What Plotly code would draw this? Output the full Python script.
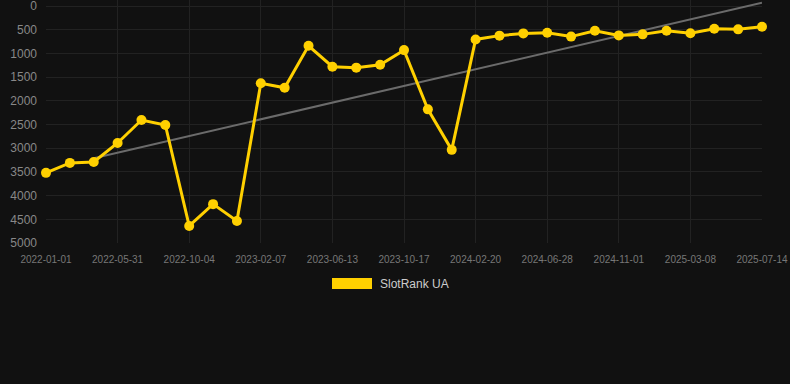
import plotly.graph_objects as go

dates = [
    "2022-01-01", "2022-02-20", "2022-04-10", "2022-05-31", "2022-07-12", "2022-08-23",
    "2022-10-04", "2022-11-15", "2022-12-27", "2023-02-07", "2023-03-21", "2023-05-02",
    "2023-06-13", "2023-07-25", "2023-09-05", "2023-10-17", "2023-11-28", "2024-01-09",
    "2024-02-20", "2024-04-02", "2024-05-15", "2024-06-28", "2024-08-09", "2024-09-20",
    "2024-11-01", "2024-12-13", "2025-01-24", "2025-03-08", "2025-04-20", "2025-06-01",
    "2025-07-14",
]
rank = [
    3520, 3310, 3290, 2890, 2405, 2510,
    4640, 4180, 4535, 1630, 1725, 840,
    1280, 1300, 1240, 930, 2180, 3035,
    705, 625, 578, 565, 645, 522,
    620, 598, 522, 576, 480, 492,
    436,
]
trend_x = [dates[2], dates[-1]]
trend_y = [3210, -70]
tick_labels = dates[::3]
series_name = "SlotRank UA"
y_ticks = [0, 500, 1000, 1500, 2000, 2500, 3000, 3500, 4000, 4500, 5000]

YELLOW = "#FFD000"
BG = "#111111"
GRID = "#222222"

fig = go.Figure()
fig.add_trace(go.Scatter(
    x=trend_x, y=trend_y, mode="lines",
    line=dict(color="#6b6b6b", width=2),
    showlegend=False, hoverinfo="skip", cliponaxis=False,
))
fig.add_trace(go.Scatter(
    x=dates, y=rank, mode="lines+markers", name=series_name,
    line=dict(color=YELLOW, width=3),
    marker=dict(color=YELLOW, size=10),
    cliponaxis=False, showlegend=False,
))

top = 0
bottom = 243
ph = bottom - top

fig.update_layout(
    width=790, height=384,
    paper_bgcolor=BG, plot_bgcolor=BG,
    margin=dict(l=46, r=28, t=top, b=384 - bottom, autoexpand=False),
    font=dict(family="Liberation Sans, Arial, sans-serif"),
    showlegend=False,
    xaxis=dict(
        type="category", categoryorder="array", categoryarray=dates,
        range=[0, 30], tickvals=tick_labels, ticktext=tick_labels,
        tickfont=dict(size=10, color="#777777"),
        showgrid=True, gridcolor=GRID, gridwidth=1,
        zeroline=False, showline=False, ticks="", ticklabelstandoff=9,
        ticklabeloverflow="allow", automargin=False,
    ),
    yaxis=dict(
        range=[5000, -127], tickvals=y_ticks,
        tickfont=dict(size=12, color="#888888"),
        showgrid=True, gridcolor=GRID, gridwidth=1,
        zeroline=False, showline=False, ticks="", ticklabelstandoff=8,
        ticklabeloverflow="allow", automargin=False,
    ),
    shapes=[dict(
        type="rect", xref="paper", yref="paper",
        x0=(332 - 46) / 716, x1=(372 - 46) / 716,
        y0=-(289 - bottom) / ph, y1=-(278 - bottom) / ph,
        fillcolor=YELLOW, line=dict(width=0),
    )],
    annotations=[dict(
        text=series_name, xref="paper", yref="paper",
        x=(378 - 46) / 716, y=-(284 - bottom) / ph,
        xanchor="left", yanchor="middle", showarrow=False,
        font=dict(size=12, color="#cccccc"),
    )],
)

fig.write_html(
    "out.html",
    config={"displayModeBar": False},
    post_script="document.body.style.margin='0';document.body.style.background='#111111';",
)
